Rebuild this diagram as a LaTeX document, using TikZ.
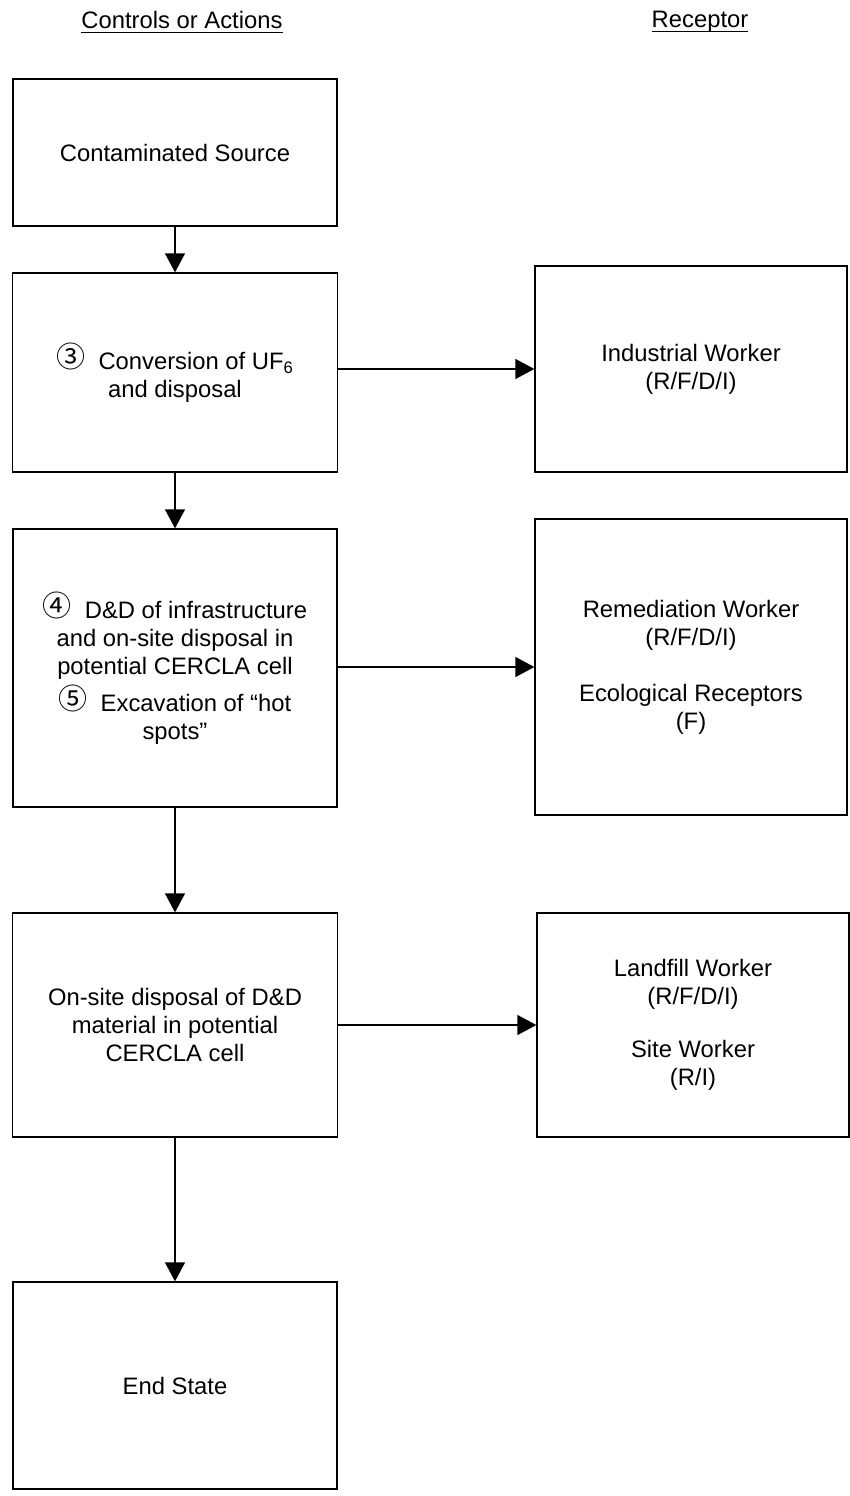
\documentclass[tikz,border=0pt]{standalone}
\usepackage{fontspec}
\setmainfont{Liberation Sans}
\newfontfamily\circfont{Noto Sans CJK SC}
\usepackage{tikz}
\usetikzlibrary{arrows.meta}

% circled step numbers and underlined column heads
\newcommand{\stepnum}[1]{\raisebox{2pt}{\circfont\fontsize{29}{28}\selectfont #1}\hspace{13pt}}
\newcommand{\hdrline}[1]{\setbox0=\hbox{#1}\leavevmode\rlap{\rule[-4.7pt]{\wd0}{1.4pt}}\box0}

\begin{document}
\begin{tikzpicture}[x=1pt, y=-1pt,
		box/.style={draw, line width=1.3pt, inner sep=0pt, align=center,
			font=\fontsize{23.8}{28}\selectfont},
		arr/.style={-{Triangle[length=19pt, width=20pt]}, line width=1.3pt}]
		\useasboundingbox (0,0) rectangle (850,1496);

		% column heads
		\node[font=\fontsize{23.8}{28}\selectfont] (hcontrol) at (182,22) {\hdrline{Controls or Actions}};
		\node[font=\fontsize{23.8}{28}\selectfont] (hreceptor) at (700,22) {\hdrline{Receptor}};

		% controls or actions
		\node[box, minimum width=324pt, minimum height=147pt] (source) at (175,152.5) {Contaminated Source};
		\node[box, minimum width=325pt, minimum height=199pt] (conv) at (175,372.5)
			{\stepnum{③}Conversion of UF\textsubscript{6}\\and disposal};
		\node[box, minimum width=324pt, minimum height=278pt] (dnd) at (175,668)
			{\stepnum{④}D\&D of infrastructure\\and on-site disposal in\\potential CERCLA cell\\[5pt]\stepnum{⑤}Excavation of “hot\\spots”};
		\node[box, minimum width=325pt, minimum height=224pt] (onsite) at (175,1025)
			{On-site disposal of D\&D\\material in potential\\CERCLA cell};
		\node[box, minimum width=324pt, minimum height=207pt] (endstate) at (175,1385.5) {End State};

		% receptors
		\node[box, minimum width=312pt, minimum height=206pt] (indworker) at (691,369)
			{Industrial Worker\\(R/F/D/I)};
		\node[box, minimum width=312pt, minimum height=296pt] (remworker) at (691,667)
			{Remediation Worker\\(R/F/D/I)\\[28pt]Ecological Receptors\\(F)};
		\node[box, minimum width=312pt, minimum height=224pt] (lfworker) at (693,1025)
			{Landfill Worker\\(R/F/D/I)\\[25pt]Site Worker\\(R/I)};

		% flow down the left column
		\draw[arr] (source.south) -- (conv.north);
		\draw[arr] (conv.south) -- (dnd.north);
		\draw[arr] (dnd.south) -- (onsite.north);
		\draw[arr] (onsite.south) -- (endstate.north);

		% exposure of receptors
		\draw[arr] (conv.east |- indworker.west) -- (indworker.west);
		\draw[arr] (dnd.east |- remworker.west) -- (remworker.west);
		\draw[arr] (onsite.east |- lfworker.west) -- (lfworker.west);
	\end{tikzpicture}
\end{document}
